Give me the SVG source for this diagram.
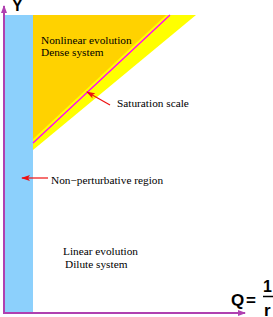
<svg xmlns="http://www.w3.org/2000/svg" width="273" height="317" viewBox="0 0 273 317">
<defs>
<marker id="ah" markerWidth="8" markerHeight="6" refX="7" refY="3" orient="auto" markerUnits="userSpaceOnUse"><path d="M0,0 L8,3 L0,6 z" fill="#b040b0"/></marker>
<marker id="rh" markerWidth="9" markerHeight="6" refX="8" refY="3" orient="auto" markerUnits="userSpaceOnUse"><path d="M0,0 L9,3 L0,6 L2,3 z" fill="#ee1111"/></marker>
</defs>
<style>
.ax{stroke:#b040b0;stroke-width:2;fill:none}
.ra{stroke:#ee1111;stroke-width:1.2;fill:none}
</style>
<g id="regions">
<rect id="nonpert" x="4" y="15" width="29" height="298" fill="#8cd0fc"/>
<polygon id="sat-band" points="33,15 196,15 33,150" fill="#ffff00"/>
<polygon id="dense" points="33,15 166,15 33,139" fill="#ffd200"/>
<line id="sat-line" x1="33" y1="143" x2="170" y2="15" stroke="#ff00ff" stroke-width="1.3"/>
</g>
<g id="connectors">
<line class="ax" x1="4" y1="313" x2="4" y2="6" marker-end="url(#ah)"/>
<line class="ax" x1="3" y1="313" x2="245" y2="313" marker-end="url(#ah)"/>
<line class="ra" x1="110" y1="105" x2="87" y2="92" marker-end="url(#rh)"/>
<line class="ra" x1="48" y1="178" x2="22" y2="178" marker-end="url(#rh)"/>
</g>
<g id="labels" font-family="'Liberation Serif', 'Times New Roman', serif" font-size="11.3" fill="#000">
<text x="41" y="44">Nonlinear evolution</text>
<text x="41" y="55.5">Dense system</text>
<text x="117" y="107">Saturation scale</text>
<text x="51" y="184">Non−perturbative region</text>
<text x="63" y="255">Linear evolution</text>
<text x="65" y="268">Dilute system</text>
</g>
<g id="axis-labels" font-family="'Liberation Sans', Arial, sans-serif" font-weight="bold" fill="#000">
<text x="12" y="11" font-size="16">Y</text>
<text x="231" y="306" font-size="17">Q</text>
<text x="246" y="306" font-size="17">=</text>
<text x="263" y="292" font-size="16">1</text>
<line x1="263" y1="296.5" x2="273" y2="296.5" stroke="#000" stroke-width="1.5"/>
<text x="264" y="316" font-size="17">r</text>
</g>
</svg>
